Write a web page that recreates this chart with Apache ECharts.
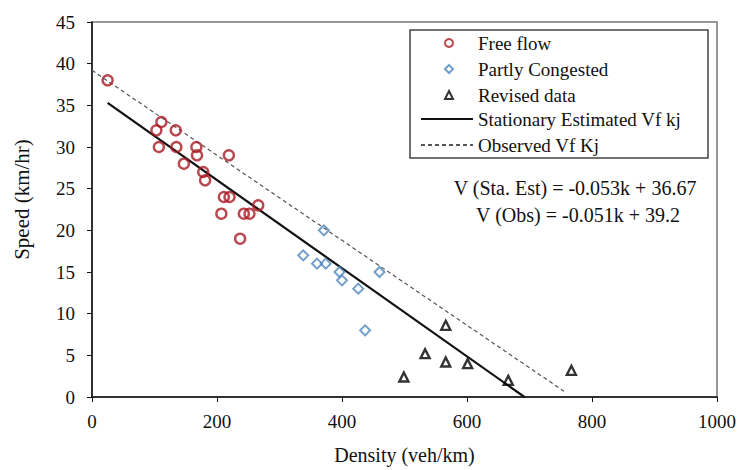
<!DOCTYPE html>
<html>
<head>
<meta charset="utf-8">
<script src="https://cdn.jsdelivr.net/npm/echarts@6/dist/echarts.min.js"></script>
<style>
  html, body { margin: 0; padding: 0; background: #fff; }
  #main { width: 741px; height: 470px; }
</style>
</head>
<body>
<div id="main"></div>
<script>
// free flow (circles)
var freeFlowDensity = [25, 111, 103, 134, 107, 135, 167, 168, 219, 147, 178, 181, 211, 220, 266, 207, 243, 252, 237];
var freeFlowSpeed = [38, 33, 32, 32, 30, 30, 30, 29, 29, 28, 27, 26, 24, 24, 23, 22, 22, 22, 19];

// partly congested (diamonds)
var partlyDensity = [371, 338, 360, 374, 396, 400, 426, 460, 437];
var partlySpeed = [20, 17, 16, 16, 15, 14, 13, 15, 8];

// revised data (triangles)
var revisedDensity = [566, 533, 566, 601, 499, 666, 767];
var revisedSpeed = [8.6, 5.2, 4.2, 4.0, 2.4, 2.0, 3.2];

// fitted lines, end points
var staLineDensity = [25, 692];
var staLineSpeed = [35.3, 0];
var obsLineDensity = [0, 755];
var obsLineSpeed = [39.2, 0.7];

var xTicks = [0, 200, 400, 600, 800, 1000];
var yTicks = [0, 5, 10, 15, 20, 25, 30, 35, 40, 45];

var equations = ['V (Sta. Est) = -0.053k + 36.67', 'V (Obs) = -0.051k + 39.2'];

function pairs(xs, ys) {
    var out = [];
    for (var i = 0; i < xs.length; i++) {
        out.push([xs[i], ys[i]]);
    }
    return out;
}

var serif = '"Liberation Serif", "Times New Roman", serif';
var red = '#a81c24';
var blue = '#4f86bd';

var myChart = echarts.init(document.getElementById('main'), null, {renderer: 'svg'});

var option = {
    backgroundColor: '#fff',
    animation: false,
    textStyle: {fontFamily: serif},
    grid: {
        left: 92,
        top: 22,
        right: 24,
        bottom: 73,
        show: true,
        borderColor: '#777',
        borderWidth: 1.5
    },
    xAxis: {
        type: 'value',
        min: xTicks[0],
        max: xTicks[xTicks.length - 1],
        interval: 200,
        name: 'Density (veh/km)',
        nameLocation: 'middle',
        nameGap: 48,
        nameTextStyle: {fontFamily: serif, fontSize: 20, color: '#111'},
        axisLine: {onZero: false, lineStyle: {color: '#111', width: 1.5}},
        axisTick: {inside: false, length: 5, lineStyle: {color: '#111'}},
        axisLabel: {
            fontFamily: serif, fontSize: 19, color: '#111', margin: 15,
            formatter: function (v) { return String(v); }
        },
        splitLine: {show: false}
    },
    yAxis: {
        type: 'value',
        min: yTicks[0],
        max: yTicks[yTicks.length - 1],
        interval: 5,
        name: 'Speed (km/hr)',
        nameLocation: 'middle',
        nameRotate: 90,
        nameGap: 60,
        nameTextStyle: {fontFamily: serif, fontSize: 21, color: '#111', padding: [0, 0, 0, 20]},
        axisLine: {onZero: false, lineStyle: {color: '#111', width: 1.5}},
        axisTick: {inside: false, length: 5, lineStyle: {color: '#111'}},
        axisLabel: {fontFamily: serif, fontSize: 19, color: '#111', margin: 17},
        splitLine: {show: false}
    },
    legend: [
        {
            orient: 'vertical',
            left: 444,
            top: 33,
            padding: 0,
            itemWidth: 8,
            itemHeight: 8,
            itemGap: 6,
            symbolKeepAspect: true,
            textStyle: {fontFamily: serif, fontSize: 19, color: '#111', lineHeight: 20, padding: [0, 0, 0, 20]},
            data: ['Free flow', 'Partly Congested', 'Revised data']
        },
        {
            orient: 'vertical',
            left: 420,
            top: 109,
            padding: 0,
            itemWidth: 52,
            itemHeight: 12,
            itemGap: 6,
            itemStyle: {opacity: 0},
            textStyle: {fontFamily: serif, fontSize: 19, color: '#111', lineHeight: 20},
            data: ['Stationary Estimated Vf kj', 'Observed Vf Kj']
        }
    ],
    graphic: [
        {
            type: 'rect',
            shape: {x: 410, y: 30, width: 298, height: 128},
            style: {fill: '#fff', stroke: '#444', lineWidth: 1.5},
            z: 0
        },
        {
            type: 'text',
            x: 575,
            y: 188,
            style: {text: equations[0], fontFamily: serif, fontSize: 20, fill: '#111', textAlign: 'center', textVerticalAlign: 'middle'}
        },
        {
            type: 'text',
            x: 578,
            y: 215,
            style: {text: equations[1], fontFamily: serif, fontSize: 20, fill: '#111', textAlign: 'center', textVerticalAlign: 'middle'}
        }
    ],
    series: [
        {
            name: 'Free flow',
            type: 'scatter',
            symbol: 'circle',
            symbolSize: 10,
            itemStyle: {color: 'rgba(255,255,255,0)', borderColor: red, borderWidth: 2.4},
            data: pairs(freeFlowDensity, freeFlowSpeed),
            z: 4
        },
        {
            name: 'Partly Congested',
            type: 'scatter',
            symbol: 'diamond',
            symbolSize: 10,
            itemStyle: {color: 'rgba(255,255,255,0)', borderColor: blue, borderWidth: 2},
            data: pairs(partlyDensity, partlySpeed),
            z: 4
        },
        {
            name: 'Revised data',
            type: 'scatter',
            symbol: 'triangle',
            symbolSize: 9,
            itemStyle: {color: 'rgba(255,255,255,0)', borderColor: '#000', borderWidth: 2.4},
            data: pairs(revisedDensity, revisedSpeed),
            z: 4
        },
        {
            name: 'Stationary Estimated Vf kj',
            type: 'line',
            symbol: 'none',
            color: '#111',
            lineStyle: {color: '#111', width: 2.2},
            data: pairs(staLineDensity, staLineSpeed),
            z: 3
        },
        {
            name: 'Observed Vf Kj',
            type: 'line',
            symbol: 'none',
            color: '#555',
            lineStyle: {color: '#555', width: 1.2, type: [4, 3]},
            data: pairs(obsLineDensity, obsLineSpeed),
            z: 3
        }
    ]
};
myChart.setOption(option);
</script>
</body>
</html>
